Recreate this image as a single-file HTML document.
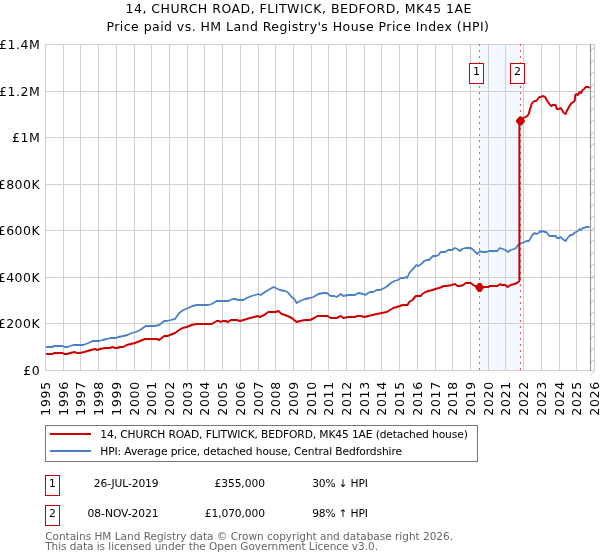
<!DOCTYPE html>
<html><head><meta charset="utf-8"><style>html,body{margin:0;padding:0;background:#fff;width:600px;height:560px;overflow:hidden}svg{display:block}</style></head>
<body><svg width="600" height="560" viewBox="0 0 600 560">
<rect width="600" height="560" fill="#fff"/>
<rect x="479.5" y="44.5" width="40.8" height="326" fill="#f3f7fe"/>
<g stroke="#d0d0d0" stroke-width="1" shape-rendering="crispEdges"><line x1="45.5" y1="44" x2="45.5" y2="371"/><line x1="63.5" y1="44" x2="63.5" y2="371"/><line x1="80.5" y1="44" x2="80.5" y2="371"/><line x1="98.5" y1="44" x2="98.5" y2="371"/><line x1="116.5" y1="44" x2="116.5" y2="371"/><line x1="134.5" y1="44" x2="134.5" y2="371"/><line x1="151.5" y1="44" x2="151.5" y2="371"/><line x1="169.5" y1="44" x2="169.5" y2="371"/><line x1="187.5" y1="44" x2="187.5" y2="371"/><line x1="204.5" y1="44" x2="204.5" y2="371"/><line x1="222.5" y1="44" x2="222.5" y2="371"/><line x1="240.5" y1="44" x2="240.5" y2="371"/><line x1="258.5" y1="44" x2="258.5" y2="371"/><line x1="275.5" y1="44" x2="275.5" y2="371"/><line x1="293.5" y1="44" x2="293.5" y2="371"/><line x1="311.5" y1="44" x2="311.5" y2="371"/><line x1="328.5" y1="44" x2="328.5" y2="371"/><line x1="346.5" y1="44" x2="346.5" y2="371"/><line x1="364.5" y1="44" x2="364.5" y2="371"/><line x1="381.5" y1="44" x2="381.5" y2="371"/><line x1="399.5" y1="44" x2="399.5" y2="371"/><line x1="417.5" y1="44" x2="417.5" y2="371"/><line x1="435.5" y1="44" x2="435.5" y2="371"/><line x1="452.5" y1="44" x2="452.5" y2="371"/><line x1="470.5" y1="44" x2="470.5" y2="371"/><line x1="488.5" y1="44" x2="488.5" y2="371"/><line x1="505.5" y1="44" x2="505.5" y2="371"/><line x1="523.5" y1="44" x2="523.5" y2="371"/><line x1="541.5" y1="44" x2="541.5" y2="371"/><line x1="559.5" y1="44" x2="559.5" y2="371"/><line x1="576.5" y1="44" x2="576.5" y2="371"/><line x1="594.5" y1="44" x2="594.5" y2="371"/><line x1="45" y1="370.5" x2="595" y2="370.5"/><line x1="45" y1="323.5" x2="595" y2="323.5"/><line x1="45" y1="277.5" x2="595" y2="277.5"/><line x1="45" y1="230.5" x2="595" y2="230.5"/><line x1="45" y1="184.5" x2="595" y2="184.5"/><line x1="45" y1="137.5" x2="595" y2="137.5"/><line x1="45" y1="91.5" x2="595" y2="91.5"/><line x1="45" y1="44.5" x2="595" y2="44.5"/></g>
<g stroke="#aaa" stroke-width="0.8"><line x1="590.5" y1="51.2" x2="594.5" y2="47.2"/><line x1="590.5" y1="63.2" x2="594.5" y2="59.2"/><line x1="590.5" y1="75.2" x2="594.5" y2="71.2"/><line x1="590.5" y1="87.2" x2="594.5" y2="83.2"/><line x1="590.5" y1="99.2" x2="594.5" y2="95.2"/><line x1="590.5" y1="111.2" x2="594.5" y2="107.2"/><line x1="590.5" y1="123.2" x2="594.5" y2="119.2"/><line x1="590.5" y1="135.2" x2="594.5" y2="131.2"/><line x1="590.5" y1="147.2" x2="594.5" y2="143.2"/><line x1="590.5" y1="159.2" x2="594.5" y2="155.2"/><line x1="590.5" y1="171.2" x2="594.5" y2="167.2"/><line x1="590.5" y1="183.2" x2="594.5" y2="179.2"/><line x1="590.5" y1="195.2" x2="594.5" y2="191.2"/><line x1="590.5" y1="207.2" x2="594.5" y2="203.2"/><line x1="590.5" y1="219.2" x2="594.5" y2="215.2"/><line x1="590.5" y1="231.2" x2="594.5" y2="227.2"/><line x1="590.5" y1="243.2" x2="594.5" y2="239.2"/><line x1="590.5" y1="255.2" x2="594.5" y2="251.2"/><line x1="590.5" y1="267.2" x2="594.5" y2="263.2"/><line x1="590.5" y1="279.2" x2="594.5" y2="275.2"/><line x1="590.5" y1="291.2" x2="594.5" y2="287.2"/><line x1="590.5" y1="303.2" x2="594.5" y2="299.2"/><line x1="590.5" y1="315.2" x2="594.5" y2="311.2"/><line x1="590.5" y1="327.2" x2="594.5" y2="323.2"/><line x1="590.5" y1="339.2" x2="594.5" y2="335.2"/><line x1="590.5" y1="351.2" x2="594.5" y2="347.2"/><line x1="590.5" y1="363.2" x2="594.5" y2="359.2"/><line x1="590.5" y1="375.2" x2="594.5" y2="371.2"/></g>
<line x1="590.5" y1="44" x2="590.5" y2="371" stroke="#999" stroke-width="1.2"/>
<g stroke="#ee5560" stroke-width="1" stroke-dasharray="2,4">
<line x1="479.5" y1="44" x2="479.5" y2="370"/>
<line x1="520.5" y1="44" x2="520.5" y2="370"/>
</g>
<path d="M46.1,347 L52.8,347 L53.8,346 L62.5,346 L65.0,347 L67.5,347 L70.0,346 L73.3,345 L83.3,345 L88.3,343 L92.5,341 L99.2,341 L102.5,340 L106.7,339 L110.0,338 L115.8,338 L118.3,337 L123.3,336 L127.5,335 L131.7,333 L135.8,332 L140.0,330 L145.8,326 L155.0,326 L159.2,325 L164.2,321 L166.7,321 L170.8,320 L175.0,319 L179.2,313 L183.3,310 L188.3,308 L192.5,306 L196.7,305 L205.0,305 L208.3,305 L211.7,304 L216.7,301 L228.6,301 L230.0,300 L233.0,299 L236.0,299 L237.5,300 L240.0,300 L243.3,300 L246.7,298 L251.7,296 L255.0,295 L258.3,294 L260.8,295 L265.0,292 L270.0,289 L273.7,287 L275.8,288 L280.0,290 L285.0,291 L287.5,292 L291.7,297 L294.2,299 L296.7,303 L300.0,301 L305.0,299 L310.0,298 L313.3,297 L318.3,294 L323.3,293 L326.7,293 L330.8,296 L334.2,296 L336.7,297 L340.8,294 L343.3,296 L348.3,295 L355.0,295 L358.3,293 L363.3,294 L365.0,295 L370.0,292 L373.3,292 L376.7,290 L380.0,290 L384.3,288 L387.6,286 L390.8,283 L394.6,281 L397.9,280 L400.6,278 L403.8,278 L405.8,277 L407.1,278 L409.3,273 L412.0,270 L414.1,268 L416.3,265 L418.5,266 L421.2,264 L424.4,261 L426.6,260 L428.8,260 L433.1,256 L436.3,256 L438.5,255 L440.7,252 L443.3,252 L445.3,252 L448.0,250 L452.0,250 L454.7,248 L457.3,249 L460.0,251 L462.0,249 L465.3,248 L468.0,248 L470.7,248 L473.3,250 L477.3,254 L480.0,251 L482.0,252 L484.7,252 L486.7,252 L489.3,251 L497.3,251 L500.0,248 L502.7,249 L505.3,250 L508.0,252 L510.7,250 L514.0,249 L516.0,248 L518.0,245 L519.4,244 L522.3,243 L524.4,242 L526.6,241 L528.7,241 L530.1,239 L532.3,235 L534.8,233 L536.2,234 L538.4,233 L540.1,231 L541.2,232 L542.6,231 L544.4,232 L546.2,232 L549.4,236 L555.9,236 L556.8,238 L559.3,238 L560.7,237 L562.5,239 L563.9,240 L565.7,241 L566.8,239 L569.3,236 L570.4,235 L572.1,235 L574.3,233 L576.1,232 L577.9,231 L579.6,229 L581.1,230 L582.9,228 L584.3,228 L585.7,227 L589.6,227" fill="none" stroke="#4a80ca" stroke-width="1.8" stroke-linejoin="round"/>
<path d="M46.1,354 L52.8,354 L53.8,353 L55.0,353 L62.5,353 L64.2,354 L67.5,354 L70.0,353 L75.0,352 L76.7,353 L80.0,353 L84.2,352 L87.5,351 L90.8,350 L95.0,349 L97.5,350 L100.0,349 L105.0,348 L110.0,348 L112.5,347 L115.0,348 L117.5,348 L120.0,347 L123.3,347 L126.7,345 L130.8,344 L135.0,343 L140.0,341 L145.0,339 L156.7,339 L159.2,340 L164.2,336 L167.5,336 L170.0,335 L175.0,333 L179.2,330 L182.5,328 L186.7,327 L191.7,325 L196.7,324 L201.7,324 L211.7,324 L216.7,321 L219.2,321 L220.8,322 L222.5,321 L225.8,321 L228.0,322 L230.8,320 L236.7,320 L240.0,321 L243.3,320 L246.7,319 L250.0,318 L254.2,317 L257.5,316 L260.0,317 L264.2,315 L268.3,312 L272.5,312 L275.8,312 L278.3,311 L281.7,314 L285.0,315 L287.5,316 L291.7,318 L294.2,320 L296.7,322 L300.0,321 L305.0,320 L310.0,320 L314.2,318 L317.5,316 L320.8,316 L325.0,316 L327.5,316 L330.8,318 L336.7,318 L340.8,316 L343.3,318 L348.3,317 L355.0,317 L357.5,316 L360.8,316 L364.2,317 L368.3,316 L372.5,315 L376.7,314 L381.7,313 L386.7,312 L393.3,308 L396.7,307 L400.0,306 L402.5,305 L407.5,305 L409.2,302 L412.5,300 L415.8,296 L420.8,296 L422.3,294 L425.5,292 L428.2,291 L432.5,290 L435.3,289 L439.0,288 L443.9,286 L446.7,286 L451.7,285 L455.0,284 L457.5,286 L460.0,286 L463.3,285 L465.8,283 L471.0,283 L472.0,284 L475.0,286 L479.5,287 L484.0,287 L488.4,287 L489.4,286 L497.3,286 L500.1,284 L501.4,285 L505.5,285 L507.7,287 L510.6,285 L514.4,284 L516.9,283 L519.4,281 L519.4,121 L520.5,121 L523.7,118 L527.3,116 L528.7,114 L529.8,110 L531.6,104 L533.0,102 L534.8,101 L536.2,101 L539.4,97 L540.9,97 L542.6,96 L545.1,97 L547.3,101 L549.4,104 L551.0,106 L553.0,105 L555.5,105 L556.8,109 L558.9,109 L560.7,108 L562.5,111 L563.9,113 L565.7,114 L566.8,111 L568.9,107 L570.0,105 L571.8,103 L574.6,101 L575.4,95 L576.4,94 L577.9,95 L579.6,92 L581.1,93 L582.5,90 L584.3,89 L585.7,87 L588.2,87 L589.9,88" fill="none" stroke="#cc0000" stroke-width="2" stroke-linejoin="round"/>
<polygon points="478.3,282.9 480.9,282.9 484.0,286.7 484.0,288.1 480.9,291.9 478.3,291.9 475.2,288.1 475.2,286.7" fill="#cc0000"/>
<polygon points="519.1,116.5 521.7,116.5 524.8,120.3 524.8,121.7 521.7,125.5 519.1,125.5 516.0,121.7 516.0,120.3" fill="#cc0000"/>
<g font-family="DejaVu Sans, sans-serif" fill="#000">
<rect x="469.5" y="63.5" width="14" height="20" fill="#fff" stroke="#cc0000"/>
<text x="476.5" y="75" text-anchor="middle" font-size="11">1</text>
<rect x="510.5" y="63.5" width="14" height="20" fill="#fff" stroke="#cc0000"/>
<text x="517.5" y="75" text-anchor="middle" font-size="11">2</text>
<g font-size="12.5">
<text x="125.5" y="13" textLength="346" lengthAdjust="spacing">14, CHURCH ROAD, FLITWICK, BEDFORD, MK45 1AE</text>
<text x="106.5" y="30.6" textLength="382.5" lengthAdjust="spacing">Price paid vs. HM Land Registry's House Price Index (HPI)</text>
<g letter-spacing="0.5"><text x="40.2" y="374.9" text-anchor="end">£0</text><text x="40.2" y="328.3" text-anchor="end">£200K</text><text x="40.2" y="281.8" text-anchor="end">£400K</text><text x="40.2" y="235.2" text-anchor="end">£600K</text><text x="40.2" y="188.7" text-anchor="end">£800K</text><text x="40.2" y="142.1" text-anchor="end">£1M</text><text x="40.2" y="95.6" text-anchor="end">£1.2M</text><text x="40.2" y="49.0" text-anchor="end">£1.4M</text></g>
<g letter-spacing="0.68"><text transform="translate(50.1,381.2) rotate(-90)" text-anchor="end">1995</text><text transform="translate(68.1,381.2) rotate(-90)" text-anchor="end">1996</text><text transform="translate(85.1,381.2) rotate(-90)" text-anchor="end">1997</text><text transform="translate(103.1,381.2) rotate(-90)" text-anchor="end">1998</text><text transform="translate(121.1,381.2) rotate(-90)" text-anchor="end">1999</text><text transform="translate(139.1,381.2) rotate(-90)" text-anchor="end">2000</text><text transform="translate(156.1,381.2) rotate(-90)" text-anchor="end">2001</text><text transform="translate(174.1,381.2) rotate(-90)" text-anchor="end">2002</text><text transform="translate(192.1,381.2) rotate(-90)" text-anchor="end">2003</text><text transform="translate(209.1,381.2) rotate(-90)" text-anchor="end">2004</text><text transform="translate(227.1,381.2) rotate(-90)" text-anchor="end">2005</text><text transform="translate(245.1,381.2) rotate(-90)" text-anchor="end">2006</text><text transform="translate(263.1,381.2) rotate(-90)" text-anchor="end">2007</text><text transform="translate(280.1,381.2) rotate(-90)" text-anchor="end">2008</text><text transform="translate(298.1,381.2) rotate(-90)" text-anchor="end">2009</text><text transform="translate(316.1,381.2) rotate(-90)" text-anchor="end">2010</text><text transform="translate(333.1,381.2) rotate(-90)" text-anchor="end">2011</text><text transform="translate(351.1,381.2) rotate(-90)" text-anchor="end">2012</text><text transform="translate(369.1,381.2) rotate(-90)" text-anchor="end">2013</text><text transform="translate(386.1,381.2) rotate(-90)" text-anchor="end">2014</text><text transform="translate(404.1,381.2) rotate(-90)" text-anchor="end">2015</text><text transform="translate(422.1,381.2) rotate(-90)" text-anchor="end">2016</text><text transform="translate(440.1,381.2) rotate(-90)" text-anchor="end">2017</text><text transform="translate(457.1,381.2) rotate(-90)" text-anchor="end">2018</text><text transform="translate(475.1,381.2) rotate(-90)" text-anchor="end">2019</text><text transform="translate(493.1,381.2) rotate(-90)" text-anchor="end">2020</text><text transform="translate(510.1,381.2) rotate(-90)" text-anchor="end">2021</text><text transform="translate(528.1,381.2) rotate(-90)" text-anchor="end">2022</text><text transform="translate(546.1,381.2) rotate(-90)" text-anchor="end">2023</text><text transform="translate(564.1,381.2) rotate(-90)" text-anchor="end">2024</text><text transform="translate(581.1,381.2) rotate(-90)" text-anchor="end">2025</text><text transform="translate(599.1,381.2) rotate(-90)" text-anchor="end">2026</text></g>
</g>
</g>
<g font-family="DejaVu Sans, sans-serif" font-size="10.7" fill="#000">
<rect x="45.5" y="425.5" width="432" height="36" fill="#fff" stroke="#777"/>
<line x1="50" y1="434" x2="91" y2="434" stroke="#cc0000" stroke-width="2"/>
<line x1="50" y1="451" x2="91" y2="451" stroke="#4a80ca" stroke-width="2"/>
<text x="100.3" y="438" textLength="367.5" lengthAdjust="spacing">14, CHURCH ROAD, FLITWICK, BEDFORD, MK45 1AE (detached house)</text>
<text x="100.3" y="455" textLength="301.8" lengthAdjust="spacing">HPI: Average price, detached house, Central Bedfordshire</text>
<rect x="45.5" y="475.5" width="14" height="20" fill="#fff" stroke="#cc0000"/>
<text x="52.5" y="487" text-anchor="middle">1</text>
<text x="93.8" y="487" textLength="64.8" lengthAdjust="spacing">26-JUL-2019</text>
<text x="214.4" y="487" textLength="50.6" lengthAdjust="spacing">£355,000</text>
<text x="312.2" y="487" textLength="55.6" lengthAdjust="spacing">30% ↓ HPI</text>
<rect x="45.5" y="505.5" width="14" height="20" fill="#fff" stroke="#cc0000"/>
<text x="52.5" y="517" text-anchor="middle">2</text>
<text x="87.6" y="517" textLength="71" lengthAdjust="spacing">08-NOV-2021</text>
<text x="204.8" y="517" textLength="60.2" lengthAdjust="spacing">£1,070,000</text>
<text x="312.2" y="517" textLength="55.6" lengthAdjust="spacing">98% ↑ HPI</text>
</g>
<g font-family="DejaVu Sans, sans-serif" font-size="10.5" fill="#666">
<text x="45.2" y="539.5" textLength="407.8" lengthAdjust="spacing">Contains HM Land Registry data © Crown copyright and database right 2026.</text>
<text x="45.2" y="549.5" textLength="332.8" lengthAdjust="spacing">This data is licensed under the Open Government Licence v3.0.</text>
</g>
</svg></body></html>
